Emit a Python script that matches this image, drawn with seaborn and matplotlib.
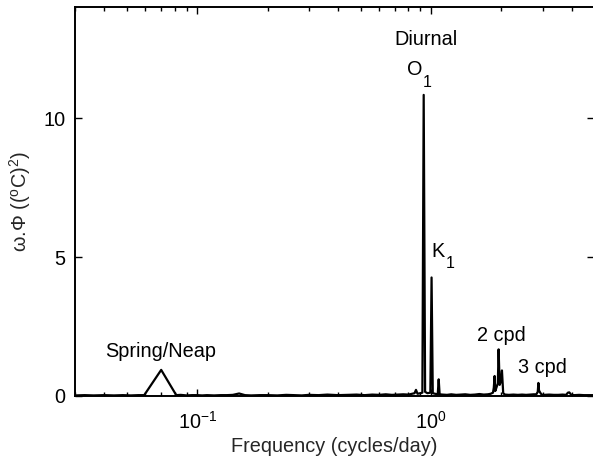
import matplotlib
matplotlib.use("Agg")
import matplotlib.pyplot as plt
import matplotlib.ticker as mticker
import numpy as np
import pandas as pd
import seaborn as sns

# spectrum (frequency in cycles/day, omega*Phi in (degC)^2)
freq = [
    0.030, 0.033, 0.036, 0.040, 0.044, 0.048, 0.052, 0.056, 0.0593,
    0.0701, 0.0813,
    0.085, 0.090, 0.095, 0.100, 0.105, 0.110, 0.118, 0.126, 0.134, 0.142,
    0.151,
    0.160, 0.170, 0.185, 0.200, 0.220, 0.240, 0.260, 0.280, 0.300, 0.330,
    0.360, 0.400, 0.440, 0.480, 0.520, 0.560, 0.600, 0.640, 0.680, 0.720,
    0.760, 0.800, 0.830, 0.850, 0.862, 0.875, 0.900, 0.918, 0.930, 0.943,
    0.965, 0.993, 1.005, 1.017, 1.040, 1.068, 1.078, 1.088, 1.120, 1.170,
    1.220, 1.280, 1.340, 1.400, 1.470, 1.540, 1.610, 1.680, 1.750, 1.800,
    1.840, 1.855, 1.870, 1.882, 1.900, 1.930, 1.945, 1.965, 1.985, 2.010,
    2.035, 2.070, 2.150, 2.250, 2.350, 2.450, 2.550, 2.650, 2.750, 2.820,
    2.860, 2.878, 2.895, 2.930, 2.970, 3.050, 3.200, 3.350, 3.500, 3.650,
    3.780, 3.850, 3.900, 3.980, 4.100, 4.300, 4.500, 4.700, 5.000,
]
power = [
    0.02, 0.03, 0.02, 0.03, 0.02, 0.03, 0.02, 0.03, 0.03,
    0.94, 0.03,
    0.04, 0.02, 0.03, 0.03, 0.02, 0.03, 0.02, 0.03, 0.03, 0.04,
    0.09,
    0.03, 0.02, 0.03, 0.03, 0.02, 0.04, 0.03, 0.02, 0.04, 0.03,
    0.05, 0.03, 0.04, 0.05, 0.03, 0.05, 0.04, 0.06, 0.04, 0.05,
    0.06, 0.05, 0.08, 0.10, 0.22, 0.08, 0.10, 0.12, 10.85, 0.15,
    0.10, 0.12, 4.27, 0.10, 0.08, 0.06, 0.60, 0.06, 0.05, 0.04,
    0.06, 0.04, 0.05, 0.06, 0.04, 0.05, 0.07, 0.05, 0.06, 0.08,
    0.12, 0.30, 0.72, 0.18, 0.28, 0.45, 1.68, 0.40, 0.50, 0.92,
    0.10, 0.05, 0.04, 0.05, 0.04, 0.05, 0.04, 0.05, 0.06, 0.06,
    0.15, 0.47, 0.20, 0.12, 0.05, 0.04, 0.05, 0.04, 0.04, 0.05,
    0.04, 0.12, 0.13, 0.04, 0.03, 0.04, 0.03, 0.03, 0.03,
]

df = pd.DataFrame({"freq": freq, "power": power})

sns.set_style("ticks")
plt.rcParams["font.family"] = ["Liberation Sans", "DejaVu Sans"]
plt.rcParams["mathtext.fontset"] = "custom"
plt.rcParams["mathtext.rm"] = "Liberation Sans"
plt.rcParams["mathtext.it"] = "Liberation Sans:italic"
plt.rcParams["mathtext.bf"] = "Liberation Sans:bold"
plt.rcParams["axes.unicode_minus"] = False

FS = 14.3
SUB = 11.5

fig = plt.figure(figsize=(5.93, 4.62), dpi=100)
ax = fig.add_axes([0.1265, 0.1429, 0.876, 0.8409])

sns.lineplot(data=df, x="freq", y="power", color="black", linewidth=1.6,
             estimator=None, sort=False, ax=ax)

ax.set_xscale("log")
ax.set_xlim(0.03, 5)
ax.set_ylim(0, 14)
ax.set_yticks([0, 5, 10])
ax.xaxis.set_minor_formatter(mticker.NullFormatter())
ax.xaxis.set_minor_locator(mticker.LogLocator(base=10, subs=np.arange(2, 10)))

for s in ax.spines.values():
    s.set_visible(True)
    s.set_linewidth(1.4)
    s.set_color("black")
ax.tick_params(which="both", direction="in", top=True, right=True,
               labelsize=FS, colors="black", width=1.0)
ax.tick_params(which="major", length=5)
ax.tick_params(which="minor", length=3)
ax.tick_params(axis="x", which="major", pad=10.5)
ax.tick_params(axis="y", which="major", pad=7)

ax.set_xlabel("Frequency (cycles/day)", fontsize=FS, labelpad=3)
ax.set_ylabel(r"ω.Φ ((${}^{\mathrm{o}}$C)$^{2}$)", fontsize=FS)
ax.yaxis.set_label_coords(-0.08, 0.5)

txt = dict(fontsize=FS, color="black")
ax.text(0.953, 12.83, "Diurnal", ha="center", va="center", **txt)
ax.text(1.996, 1.97, "2 cpd", ha="center", va="baseline", **txt)
ax.text(2.99, 0.83, "3 cpd", ha="center", va="baseline", **txt)
ax.text(0.0695, 1.40, "Spring/Neap", ha="center", va="baseline", **txt)

# constituent names with a low, fairly large subscript
ax.text(0.851, 11.55, "O", ha="center", va="baseline", **txt)
ax.text(0.925, 11.15, "1", ha="left", va="baseline", fontsize=SUB, color="black")
ax.text(1.072, 5.02, "K", ha="center", va="baseline", **txt)
ax.text(1.150, 4.62, "1", ha="left", va="baseline", fontsize=SUB, color="black")

fig.savefig("out.png", dpi=100)
